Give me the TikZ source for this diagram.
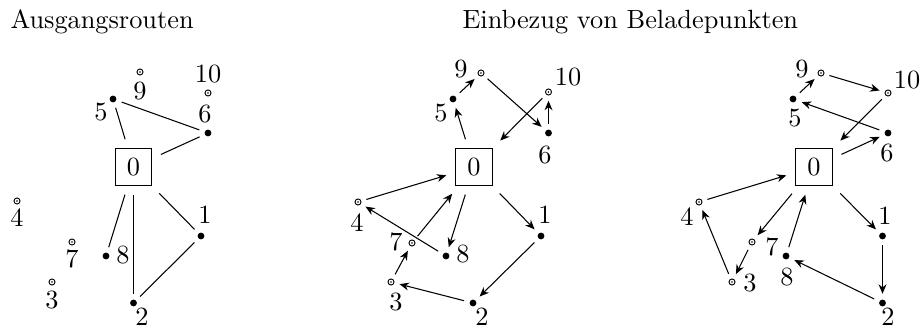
\documentclass[tikz,border=0pt]{standalone}
\usetikzlibrary{arrows.meta}

\begin{document}
\begin{tikzpicture}[x=0.38pt, y=-0.38pt,
  depot/.style={draw, minimum size=14pt, inner sep=0pt, outer sep=1.6pt},
  kunde/.style={circle, fill, inner sep=0pt, minimum size=2.6pt},
  lade/.style={circle, draw, inner sep=0pt, minimum size=2.3pt, line width=0.35pt,
    path picture={\fill (path picture bounding box.center) circle (0.35pt);}},
  nr/.style={inner sep=0pt},
  kante/.style={shorten <=2pt, shorten >=2pt},
  arr/.style={kante, -{Stealth[length=3.6pt, width=3pt]}}]
\useasboundingbox (0,0) rectangle (923,329);

\node[nr, anchor=base west] (t1) at (10,29) {Ausgangsrouten};
\node[nr, anchor=base west] (t2) at (462,29) {Einbezug von Beladepunkten};

% Ausgangsrouten
\node[depot] (a0) at (133.5,167) {0};
\node[kunde] (a1) at (201,236) {};  \node[nr] (a1t) at (205,215) {1};
\node[kunde] (a2) at (133.5,303) {};  \node[nr] (a2t) at (142,317) {2};
\node[lade]  (a3) at (52,282) {};   \node[nr] (a3t) at (52,300) {3};
\node[lade]  (a4) at (17,201) {};   \node[nr] (a4t) at (17,218) {4};
\node[kunde] (a5) at (113,99) {};   \node[nr] (a5t) at (101,112) {5};
\node[kunde] (a6) at (208,133) {};  \node[nr] (a6t) at (205,114) {6};
\node[lade]  (a7) at (72,242) {};   \node[nr] (a7t) at (72,259) {7};
\node[kunde] (a8) at (106,256) {};  \node[nr] (a8t) at (123,255) {8};
\node[lade]  (a9) at (140,72) {};   \node[nr] (a9t) at (140,91) {9};
\node[lade]  (a10) at (208,93) {};  \node[nr] (a10t) at (208,74) {10};
\draw[kante] (a0) edge (a5) edge (a6) edge (a8) edge (a2) edge (a1);
\draw[kante] (a5) edge (a6) (a2) edge (a1);

% Einbezug von Beladepunkten, erste Variante
\node[depot] (b0) at (474,167) {0};
\node[kunde] (b1) at (541,236) {};  \node[nr] (b1t) at (545,215) {1};
\node[kunde] (b2) at (473,303) {};  \node[nr] (b2t) at (482,317) {2};
\node[lade]  (b3) at (391,282) {};  \node[nr] (b3t) at (396,302) {3};
\node[lade]  (b4) at (358,202) {};  \node[nr] (b4t) at (357,223) {4};
\node[kunde] (b5) at (453,99) {};   \node[nr] (b5t) at (441,113) {5};
\node[kunde] (b6) at (548.5,133) {};  \node[nr] (b6t) at (545,155) {6};
\node[lade]  (b7) at (412,243) {};  \node[nr] (b7t) at (396,242) {7};
\node[kunde] (b8) at (446,256) {};  \node[nr] (b8t) at (463,254) {8};
\node[lade]  (b9) at (481,73) {};   \node[nr] (b9t) at (461,69) {9};
\node[lade]  (b10) at (548.5,92) {};  \node[nr] (b10t) at (568,77) {10};
\draw[arr] (b0) edge (b5) (b5) edge (b9) (b9) edge (b6) (b6) edge (b10) (b10) edge (b0);
\draw[arr] (b0) edge (b1) (b1) edge (b2) (b2) edge (b3) (b3) edge (b7) (b7) edge (b0);
\draw[arr] (b0) edge (b8) (b8) edge (b4) (b4) edge (b0);

% Einbezug von Beladepunkten, zweite Variante
\node[depot] (c0) at (814,167) {0};
\node[kunde] (c1) at (882.5,236) {};  \node[nr] (c1t) at (885,216) {1};
\node[kunde] (c2) at (882.5,303) {};  \node[nr] (c2t) at (888,317) {2};
\node[lade]  (c3) at (732,282) {};  \node[nr] (c3t) at (750,283) {3};
\node[lade]  (c4) at (699,202) {};  \node[nr] (c4t) at (687,217) {4};
\node[kunde] (c5) at (793,99) {};   \node[nr] (c5t) at (795,118) {5};
\node[kunde] (c6) at (888,133) {};  \node[nr] (c6t) at (887,153) {6};
\node[lade]  (c7) at (752,242) {};  \node[nr] (c7t) at (772,247) {7};
\node[kunde] (c8) at (786,256) {};  \node[nr] (c8t) at (787,277) {8};
\node[lade]  (c9) at (821,73) {};   \node[nr] (c9t) at (802,69) {9};
\node[lade]  (c10) at (888,93) {};  \node[nr] (c10t) at (907,80) {10};
\draw[arr] (c0) edge (c1) (c1) edge (c2) (c2) edge (c8) (c8) edge (c0);
\draw[arr] (c0) edge (c7) (c7) edge (c3) (c3) edge (c4) (c4) edge (c0);
\draw[arr] (c0) edge (c6) (c6) edge (c5) (c5) edge (c9) (c9) edge (c10) (c10) edge (c0);
\end{tikzpicture}
\end{document}
